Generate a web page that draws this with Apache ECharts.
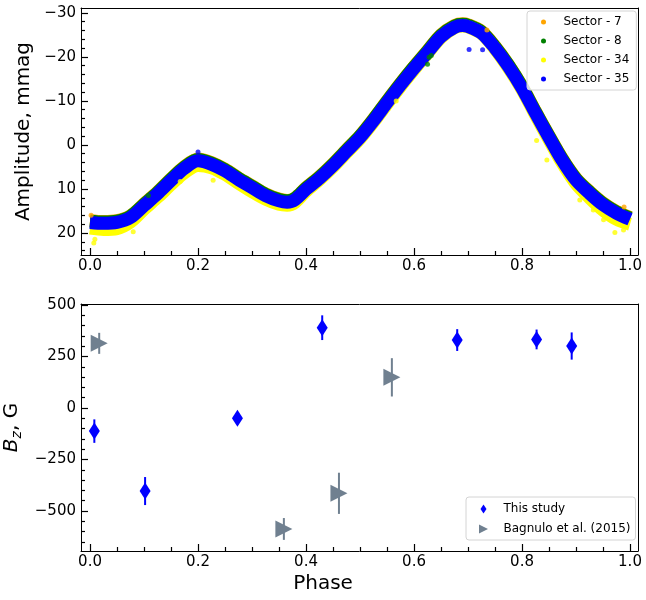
<!DOCTYPE html>
<html>
<head>
<meta charset="utf-8">
<script src="https://cdn.jsdelivr.net/npm/echarts@6/dist/echarts.min.js"></script>
<style>
  html, body { margin: 0; padding: 0; background: #fff; }
  #main { width: 646px; height: 600px; }
</style>
</head>
<body>
<div id="main"></div>
<script>
var chart = echarts.init(document.getElementById('main'));

// light curve, phase grid
var lcPhase = [0.000,0.025,0.050,0.075,0.100,0.125,0.150,0.175,0.200,0.225,0.250,0.275,0.300,0.325,0.350,0.365,0.380,0.400,0.425,0.450,0.475,0.500,0.525,0.550,0.575,0.600,0.625,0.650,0.675,0.690,0.700,0.725,0.750,0.775,0.800,0.825,0.850,0.875,0.900,0.925,0.950,0.975,1.000];
var sec7  = [17.2,17.4,17.2,16.1,13.4,10.7,7.7,4.9,3.2,4.0,5.5,7.5,9.3,11.1,12.3,12.6,12.0,9.7,7.2,4.3,1.1,-2.1,-5.9,-10.0,-14.0,-17.8,-21.4,-25.0,-27.1,-27.5,-27.3,-25.8,-22.4,-18.2,-13.3,-7.6,-2.1,3.2,7.6,10.6,13.2,15.1,16.5];
var sec8  = [17.3,17.5,17.3,16.2,13.5,10.8,7.8,5.0,3.3,4.1,5.6,7.6,9.4,11.2,12.4,12.7,12.1,9.8,7.3,4.4,1.2,-2.0,-5.8,-9.9,-13.9,-17.7,-21.3,-24.9,-27.0,-27.4,-27.2,-25.7,-22.3,-18.1,-13.2,-7.5,-2.0,3.3,7.7,10.7,13.3,15.2,16.6];
var sec34 = [18.9,19.2,19.0,17.5,14.6,11.9,9.0,6.3,4.7,5.2,6.7,8.7,10.6,12.3,13.5,13.7,13.0,10.5,7.9,5.0,1.8,-1.4,-5.2,-9.3,-13.3,-17.1,-20.8,-24.4,-26.6,-27.0,-26.8,-25.3,-21.8,-17.5,-12.6,-6.8,-1.2,4.2,8.8,12.0,14.8,16.9,18.0];
var sec35 = [17.6,17.8,17.6,16.5,13.8,11.1,8.1,5.3,3.6,4.4,5.9,7.9,9.7,11.5,12.7,13.0,12.4,10.1,7.6,4.7,1.5,-1.7,-5.5,-9.6,-13.6,-17.4,-21.0,-24.6,-26.7,-27.1,-26.9,-25.4,-22.0,-17.8,-12.9,-7.2,-1.7,3.6,8.0,11.0,13.6,15.5,16.9];

// stray points [phase, mmag]
var sec7Out  = [[0.735,-26.1],[0.989,14.1],[0.002,16.0]];
var sec8Out  = [[0.625,-18.3],[0.628,-19.9],[0.632,-20.3],[0.108,11.5]];
var sec34Out = [[0.007,22.3],[0.009,21.4],[0.080,19.7],[0.167,8.3],[0.228,8.0],[0.567,-10.0],[0.827,-1.0],[0.846,3.4],[0.907,12.5],[0.932,14.8],[0.951,17.0],[0.972,19.9],[0.988,19.3]];
var sec35Out = [[0.702,-21.7],[0.727,-21.6],[0.200,1.6]];

// magnetic field
var thisPhase = [0.008,0.102,0.273,0.430,0.680,0.827,0.892];
var thisBz    = [-112,-403,-50,390,330,333,301];
var thisErr   = [57,68,30,60,53,48,66];
var bagPhase  = [0.017,0.359,0.559,0.461];
var bagBz     = [314,-587,149,-414];
var bagErr    = [51,53,93,100];

// ticks
var phaseTicks = [0,0.2,0.4,0.6,0.8,1.0];
var phaseMinor = [0.05,0.1,0.15,0.25,0.3,0.35,0.45,0.5,0.55,0.65,0.7,0.75,0.85,0.9,0.95];
var ampTicks = [-30,-20,-10,0,10,20];
var ampMinor = [-28,-26,-24,-22,-18,-16,-14,-12,-8,-6,-4,-2,2,4,6,8,12,14,16,18,22,24];
var bzTicks = [-500,-250,0,250,500];
var bzMinor = [-650,-600,-550,-450,-400,-350,-300,-200,-150,-100,-50,50,100,150,200,300,350,400,450];

var FONT = 'DejaVu Sans';
var PH_MIN = -0.0167, PH_MAX = 1.0148;
var AMP_MIN = -31.1, AMP_MAX = 25;
var BZ_MIN = -694, BZ_MAX = 505;

function pairs(xs, ys) {
    var out = [];
    for (var i = 0; i < xs.length; i++) out.push([xs[i], ys[i]]);
    return out;
}
function errs(xs, ys, es) {
    var out = [];
    for (var i = 0; i < xs.length; i++) out.push([xs[i], ys[i] - es[i], ys[i] + es[i]]);
    return out;
}
function minus(v) { return String(v).replace('-', '\u2212'); }

function errBar(color) {
    return function (params, api) {
        var a = api.coord([api.value(0), api.value(1)]);
        var b = api.coord([api.value(0), api.value(2)]);
        return {
            type: 'line',
            shape: { x1: a[0], y1: a[1], x2: b[0], y2: b[1] },
            style: { stroke: color, lineWidth: 2 }
        };
    };
}

function band(name, ys, color) {
    return {
        name: name, type: 'line', xAxisIndex: 0, yAxisIndex: 0,
        data: pairs(lcPhase, ys), smooth: 0.3, showSymbol: false,
        itemStyle: { color: color },
        lineStyle: { color: color, width: 13, cap: 'butt', join: 'round' },
        emphasis: { disabled: true }, silent: true, z: 2
    };
}
function dots(name, pts, color) {
    return {
        name: name, type: 'scatter', xAxisIndex: 0, yAxisIndex: 0,
        data: pts, symbolSize: 5, itemStyle: { color: color },
        silent: true, z: 3
    };
}

var blackLine = { show: true, onZero: false, lineStyle: { color: '#000', width: 1 } };
var tickStyle = { color: '#000', width: 1.2 };

function majorX(grid) {
    return {
        type: 'value', gridIndex: grid, position: 'bottom', min: PH_MIN, max: PH_MAX,
        axisLine: blackLine, splitLine: { show: false },
        axisTick: { inside: true, length: 7, customValues: phaseTicks, lineStyle: tickStyle },
        axisLabel: { customValues: phaseTicks, margin: 4, color: '#000',
                     fontFamily: FONT, fontSize: 15,
                     formatter: function (v) { return v.toFixed(1); } }
    };
}
function minorX(grid) {
    return {
        type: 'value', gridIndex: grid, position: 'bottom', min: PH_MIN, max: PH_MAX,
        axisLine: { show: false, onZero: false }, splitLine: { show: false },
        axisTick: { inside: true, length: 4, customValues: phaseMinor, lineStyle: tickStyle },
        axisLabel: { show: false }
    };
}
function frameX(grid) {
    return {
        type: 'value', gridIndex: grid, position: 'top', min: PH_MIN, max: PH_MAX,
        axisLine: blackLine, splitLine: { show: false },
        axisTick: { show: false }, axisLabel: { show: false }
    };
}
function frameY(grid, lo, hi) {
    return {
        type: 'value', gridIndex: grid, position: 'right', min: lo, max: hi,
        axisLine: blackLine, splitLine: { show: false },
        axisTick: { show: false }, axisLabel: { show: false }
    };
}

option = {
    animation: false,
    backgroundColor: '#fff',
    textStyle: { fontFamily: FONT },
    grid: [
        { left: 81, top: 8, width: 557, height: 247, outerBoundsMode: 'none', containLabel: false },
        { left: 81, top: 304, width: 557, height: 247, outerBoundsMode: 'none', containLabel: false }
    ],
    legend: [
        {
            orient: 'vertical', left: 527, top: 11,
            padding: [4, 7, 4, 14], itemGap: 5,
            itemWidth: 30, itemHeight: 5, icon: 'circle',
            borderColor: '#d4d4d4', borderWidth: 1, borderRadius: 3,
            backgroundColor: 'rgba(255,255,255,0.8)',
            selectedMode: false,
            textStyle: { fontFamily: FONT, fontSize: 12, color: '#000', lineHeight: 14 },
            data: ['Sector - 7', 'Sector - 8', 'Sector - 34', 'Sector - 35']
        },
        {
            orient: 'vertical', left: 466, top: 497,
            padding: [5, 5, 4, 13], itemGap: 6,
            itemWidth: 30, itemHeight: 9, symbolRotate: 0,
            borderColor: '#d4d4d4', borderWidth: 1, borderRadius: 3,
            backgroundColor: 'rgba(255,255,255,0.8)',
            selectedMode: false,
            textStyle: { fontFamily: FONT, fontSize: 12, color: '#000', lineHeight: 14 },
            data: [
                { name: 'This study', icon: 'path://M3,0L6,4.5L3,9L0,4.5Z' },
                { name: 'Bagnulo et al. (2015)', icon: 'path://M0,0L9,4.5L0,9Z' }
            ]
        }
    ],
    xAxis: [majorX(0), minorX(0), majorX(1), minorX(1), frameX(0), frameX(1)],
    yAxis: [
        {
            type: 'value', gridIndex: 0, position: 'left', inverse: true, min: AMP_MIN, max: AMP_MAX,
            name: 'Amplitude, mmag', nameLocation: 'middle', nameGap: 43,
            nameTextStyle: { fontFamily: FONT, fontSize: 20, color: '#000' },
            axisLine: blackLine, splitLine: { show: false },
            axisTick: { inside: true, length: 7, customValues: ampTicks, lineStyle: tickStyle },
            axisLabel: { customValues: ampTicks, margin: 5, color: '#000',
                         fontFamily: FONT, fontSize: 15, formatter: minus }
        },
        {
            type: 'value', gridIndex: 0, position: 'left', inverse: true, min: AMP_MIN, max: AMP_MAX,
            axisLine: { show: false, onZero: false }, splitLine: { show: false },
            axisTick: { inside: true, length: 4, customValues: ampMinor, lineStyle: tickStyle },
            axisLabel: { show: false }
        },
        {
            type: 'value', gridIndex: 1, position: 'left', min: BZ_MIN, max: BZ_MAX,
            name: '{b|B}{s|z}{n|, G}', nameLocation: 'middle', nameGap: 53,
            nameTextStyle: {
                color: '#000',
                rich: {
                    b: { fontFamily: FONT, fontSize: 20, fontStyle: 'italic', color: '#000' },
                    s: { fontFamily: FONT, fontSize: 14, fontStyle: 'italic', color: '#000', padding: [10, 0, 0, 0] },
                    n: { fontFamily: FONT, fontSize: 20, color: '#000' }
                }
            },
            axisLine: blackLine, splitLine: { show: false },
            axisTick: { inside: true, length: 7, customValues: bzTicks, lineStyle: tickStyle },
            axisLabel: { customValues: bzTicks, margin: 5, color: '#000',
                         fontFamily: FONT, fontSize: 15, formatter: minus }
        },
        {
            type: 'value', gridIndex: 1, position: 'left', min: BZ_MIN, max: BZ_MAX,
            axisLine: { show: false, onZero: false }, splitLine: { show: false },
            axisTick: { inside: true, length: 4, customValues: bzMinor, lineStyle: tickStyle },
            axisLabel: { show: false }
        },
        frameY(0, AMP_MIN, AMP_MAX),
        frameY(1, BZ_MIN, BZ_MAX)
    ],
    series: [
        band('Sector - 7', sec7, '#ffa500'),
        band('Sector - 8', sec8, '#008000'),
        band('Sector - 34', sec34, '#ffff00'),
        band('Sector - 35', sec35, '#0000ff'),
        dots('Sector - 7', sec7Out, '#ffa500'),
        dots('Sector - 8', sec8Out, '#008000'),
        dots('Sector - 34', sec34Out, '#ffff00'),
        dots('Sector - 35', sec35Out, '#0000ff'),
        {
            name: 'errThis', type: 'custom', xAxisIndex: 2, yAxisIndex: 2,
            data: errs(thisPhase, thisBz, thisErr), renderItem: errBar('#0000ff'),
            silent: true, z: 2
        },
        {
            name: 'This study', type: 'scatter', xAxisIndex: 2, yAxisIndex: 2,
            data: pairs(thisPhase, thisBz), symbol: 'diamond', symbolSize: [11, 17],
            itemStyle: { color: '#0000ff', opacity: 1 }, silent: true, z: 3
        },
        {
            name: 'errBag', type: 'custom', xAxisIndex: 2, yAxisIndex: 2,
            data: errs(bagPhase, bagBz, bagErr), renderItem: errBar('#708090'),
            silent: true, z: 2
        },
        {
            name: 'Bagnulo et al. (2015)', type: 'scatter', xAxisIndex: 2, yAxisIndex: 2,
            data: pairs(bagPhase, bagBz), symbol: 'triangle', symbolRotate: -90,
            symbolSize: 17, itemStyle: { color: '#708090', opacity: 1 }, silent: true, z: 3
        }
    ],
    graphic: [
        { type: 'text', left: 'center', top: 574,
          style: { text: 'Phase', fontFamily: FONT, fontSize: 20, fill: '#000' } }
    ]
};
chart.setOption(option);
</script>
</body>
</html>
